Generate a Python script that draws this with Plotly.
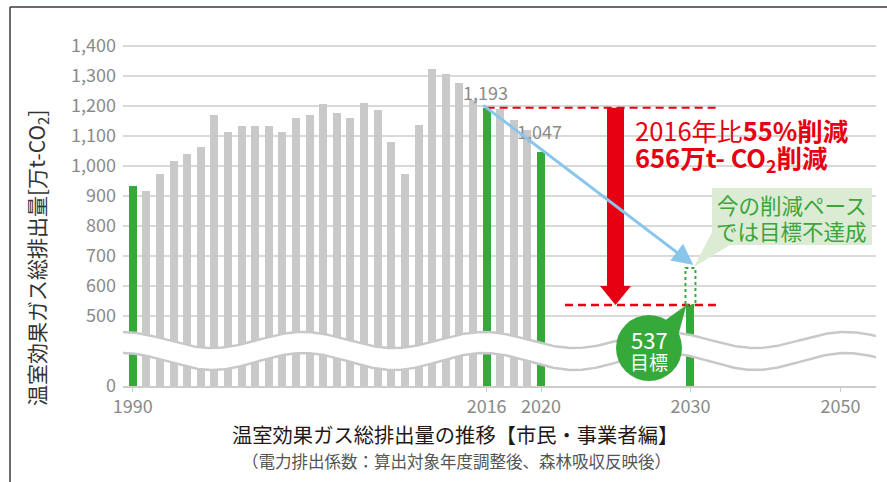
import numpy as np
import plotly.graph_objects as go

# ---------------- data ----------------
years = list(range(1990, 2021))
emissions = [934, 917, 974, 1016, 1040, 1064, 1169, 1113, 1131, 1131, 1131,
             1113, 1160, 1169, 1206, 1177, 1159, 1209, 1186, 1079, 973,
             1136, 1322, 1306, 1276, 1219, 1193, 1190, 1152, 1119, 1047]
highlight_years = [1990, 2016, 2020]
base_year = 2016
latest_year = 2020
target_year = 2030
target_value = 537
current_pace_value = 660
tick_years = [1990, 2016, 2020, 2030, 2050]
y_tick_values = [0, 500, 600, 700, 800, 900, 1000, 1100, 1200, 1300, 1400]

# ---------------- layout constants ----------------
W, H = 887, 482
ML, MR, MT, MB = 123, 11, 30, 96
PX0, PX1, PY0, PY1 = ML, W - MR, MT, H - MB
XR = [1989.29, 2044.6]
Y_ZERO_POS = 267          # broken axis: where 0 is drawn
YR = [Y_ZERO_POS, 1452]

# broken x axis: years -> axis positions
X_ANCH = [1990, 2020, 2030, 2050]
X_POS = [1990, 2020, 2030.97, 2042.0]
def xpos(y):
    return float(np.interp(y, X_ANCH, X_POS))

def ypos(v):
    return v if v >= 500 else Y_ZERO_POS

def dx(px):
    return XR[0] + (px - PX0) / (PX1 - PX0) * (XR[1] - XR[0])
def dy(py):
    return YR[0] + (PY1 - py) / (PY1 - PY0) * (YR[1] - YR[0])
def ux(dpx):
    return dpx / (PX1 - PX0) * (XR[1] - XR[0])
def uy(dpy):
    return dpy / (PY1 - PY0) * (YR[1] - YR[0])
def paper_x(px):
    return (px - PX0) / (PX1 - PX0)
def paper_y(py):
    return (PY1 - py) / (PY1 - PY0)

GRAY = "#c9c9c9"
GREEN = "#35aa3a"
RED = "#e60012"
BLUE = "#8ac5eb"
FONT = "Noto Sans CJK JP"
BW = ux(8)

fig = go.Figure()

gx = [y for y in years if y not in highlight_years]
gv = [v for y, v in zip(years, emissions) if y not in highlight_years]
hx = [y for y in years if y in highlight_years]
hv = [v for y, v in zip(years, emissions) if y in highlight_years]

fig.add_trace(go.Bar(x=[xpos(y) for y in gx], y=gv, width=BW, marker_color=GRAY,
                     marker_line_width=0, showlegend=False, hoverinfo="skip"))
fig.add_trace(go.Bar(x=[xpos(y) for y in hx], y=hv, width=BW, marker_color=GREEN,
                     marker_line_width=0, showlegend=False, hoverinfo="skip"))
fig.add_trace(go.Bar(x=[xpos(target_year)], y=[target_value], width=BW, marker_color=GREEN,
                     marker_line_width=0, showlegend=False, hoverinfo="skip"))

# ---------------- wavy axis break (decoration) ----------------
wx = np.linspace(XR[0], XR[1], 500)
wpx = PX0 + (wx - XR[0]) / (XR[1] - XR[0]) * (PX1 - PX0)
ph = np.cos(2 * np.pi * (wpx - 122) / 181)
up = [dy(p) for p in 340 - 8 * ph]
lo = [dy(p) for p in 361.5 - 8.5 * ph]
fig.add_trace(go.Scatter(x=wx, y=lo, mode="lines", line=dict(width=0, color="white"),
                         showlegend=False, hoverinfo="skip"))
fig.add_trace(go.Scatter(x=wx, y=up, mode="lines", line=dict(width=0, color="white"),
                         fill="tonexty", fillcolor="white", showlegend=False, hoverinfo="skip"))
for yy in (up, lo):
    fig.add_trace(go.Scatter(x=wx, y=yy, mode="lines", line=dict(width=2.5, color="#c8c8c8"),
                             showlegend=False, hoverinfo="skip"))

shapes = []
# frame
shapes.append(dict(type="line", xref="paper", yref="paper", x0=paper_x(10), x1=paper_x(W + 20),
                   y0=paper_y(7), y1=paper_y(7), line=dict(color="#3f3a3a", width=1.5)))
shapes.append(dict(type="line", xref="paper", yref="paper", x0=paper_x(10), x1=paper_x(10),
                   y0=paper_y(7), y1=paper_y(H + 20), line=dict(color="#3f3a3a", width=1.5)))

base_val = emissions[years.index(base_year)]
# red dashed lines
shapes.append(dict(type="line", x0=xpos(base_year), x1=dx(720), y0=base_val, y1=base_val,
                   line=dict(color=RED, width=2, dash="8px,5px")))
shapes.append(dict(type="line", x0=dx(565), x1=dx(720), y0=target_value, y1=target_value,
                   line=dict(color=RED, width=2.5, dash="8px,5px")))

# dotted outline for "current pace"
shapes.append(dict(type="rect", x0=xpos(target_year) - ux(5), x1=xpos(target_year) + ux(5),
                   y0=target_value, y1=current_pace_value,
                   line=dict(color=GREEN, width=2, dash="dot")))

# red down arrow
cx = dx(615.5)
sw, hw = ux(8.5), ux(15.5)
head_top = target_value + uy(19)
path = (f"M {cx-sw},{base_val} L {cx+sw},{base_val} L {cx+sw},{head_top} L {cx+hw},{head_top} "
        f"L {cx},{target_value} L {cx-hw},{head_top} L {cx-sw},{head_top} Z")
shapes.append(dict(type="path", path=path, fillcolor=RED, line=dict(width=0)))

# green callout box
shapes.append(dict(type="rect", x0=dx(712), x1=dx(872), y0=dy(245), y1=dy(188),
                   fillcolor="#dcecd4", line=dict(width=0)))
shapes.append(dict(type="path",
                   path=f"M {dx(712)},{dy(232)} L {dx(694)},{dy(267)} L {dx(730)},{dy(245)} Z",
                   fillcolor="#dcecd4", line=dict(width=0)))

# green target bubble
ccx, ccy, r = 649, 348, 33
shapes.append(dict(type="circle", x0=dx(ccx - r), x1=dx(ccx + r), y0=dy(ccy + r), y1=dy(ccy - r),
                   fillcolor=GREEN, line=dict(width=0)))
a1, a2 = np.radians(60), np.radians(22)
p1 = (ccx + r * np.cos(a1), ccy - r * np.sin(a1))
p2 = (ccx + r * np.cos(a2), ccy - r * np.sin(a2))
shapes.append(dict(type="path",
                   path=(f"M {dx(p1[0]-2)},{dy(p1[1]+2)} L {xpos(target_year)-ux(4)},{target_value} "
                         f"L {dx(p2[0]-2)},{dy(p2[1]+2)} Z"),
                   fillcolor=GREEN, line=dict(width=0)))

annotations = []
def ptext(px, py, text, size, color, xanchor="center", yanchor="middle", **kw):
    annotations.append(dict(xref="paper", yref="paper", x=paper_x(px), y=paper_y(py), text=text,
                            showarrow=False, xanchor=xanchor, yanchor=yanchor,
                            font=dict(family=FONT, size=size, color=color), **kw))

latest_val = emissions[years.index(latest_year)]
annotations.append(dict(x=xpos(base_year) - 0.1, y=base_val, text=f"{base_val:,}", showarrow=False,
                        xanchor="center", yanchor="bottom", yshift=1,
                        font=dict(family=FONT, size=18, color="#8a8a8a")))
annotations.append(dict(x=xpos(latest_year) - 0.1, y=latest_val, text=f"{latest_val:,}", showarrow=False,
                        xanchor="center", yanchor="bottom", yshift=6,
                        font=dict(family=FONT, size=18, color="#8a8a8a")))

# blue trend arrow
annotations.append(dict(x=xpos(target_year) + ux(3), y=current_pace_value + 10, ax=xpos(base_year) - 0.35,
                        ay=base_val + 12, axref="x", ayref="y", xref="x", yref="y", text="",
                        showarrow=True, arrowhead=2, arrowsize=1.4, arrowwidth=3, arrowcolor=BLUE,
                        standoff=0))

# red text
ptext(633, 129, "2016年比<b>55%削減</b>", 25.5, RED, xanchor="left")
ptext(633, 158, "<b>656万t- CO<sub>2</sub>削減</b>", 25.5, RED, xanchor="left")
# callout text
ptext(791, 204, "今の削減ペース", 21.5, "#3ba43a")
ptext(791, 230, "では目標不達成", 21.5, "#3ba43a")
# bubble text
ptext(ccx, 339, f"{target_value}", 22, "white")
ptext(ccx, 361, "目標", 19, "white")
# y title
ptext(37, 258, "温室効果ガス総排出量[万t-CO<sub>2</sub>]", 21, "#333333", textangle=-90)
# title and subtitle
ptext(455, 434, "温室効果ガス総排出量の推移【市民・事業者編】", 20.3, "#231815")
ptext(456, 461, "（電力排出係数：算出対象年度調整後、森林吸収反映後）", 16.5, "#555555")

fig.update_layout(
    width=W, height=H, margin=dict(l=ML, r=MR, t=MT, b=MB),
    paper_bgcolor="white", plot_bgcolor="white",
    barmode="overlay", bargap=0, showlegend=False,
    shapes=shapes, annotations=annotations,
    xaxis=dict(range=XR, tickmode="array", tickvals=[xpos(y) for y in tick_years],
               ticktext=[str(y) for y in tick_years], showgrid=False, zeroline=False,
               showline=True, linecolor="#cccccc", linewidth=1.5, ticks="outside", ticklen=4,
               tickcolor="#cccccc", tickfont=dict(family=FONT, size=18, color="#8a8a8a")),
    yaxis=dict(range=YR, tickmode="array", tickvals=[ypos(v) for v in y_tick_values],
               ticktext=[f"{v:,}" for v in y_tick_values], showgrid=True, gridcolor="#d9d9d9",
               gridwidth=1.5, zeroline=False, showline=False, ticks="", ticklabelstandoff=6,
               tickfont=dict(family=FONT, size=18, color="#8a8a8a")),
)

fig.write_html("out.html", config={"displayModeBar": False},
               post_script="document.body.style.margin='0px';")
